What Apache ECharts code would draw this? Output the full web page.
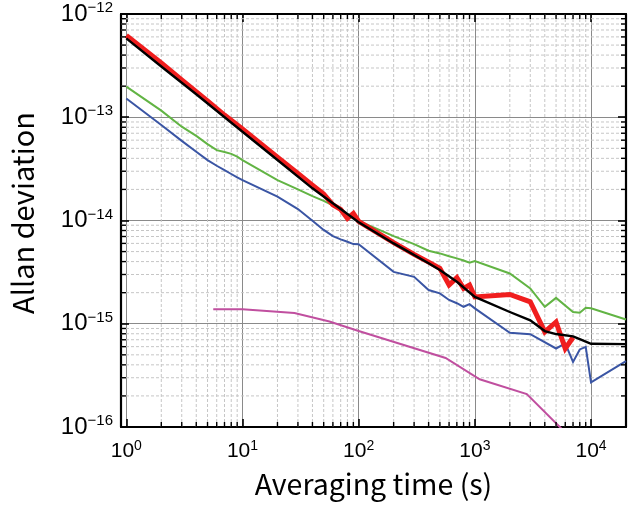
<!DOCTYPE html>
<html>
<head>
<meta charset="utf-8">
<script src="https://cdn.jsdelivr.net/npm/echarts@6/dist/echarts.min.js"></script>
<style>
  html, body { margin: 0; padding: 0; background: #fff; }
  #chart { width: 629px; height: 506px; }
</style>
</head>
<body>
<div id="chart"></div>
<script>
// Averaging times (s) and Allan deviations for each trace
const redTau = [1, 2, 3, 5, 7, 10, 20, 30, 40, 50, 60, 70, 80, 90, 100, 200, 300, 400, 500, 600, 700, 800, 900, 1000, 2000, 3000, 4000, 5000, 6000, 7000];
const redAdev = [6.2e-13, 3.35e-13, 2.3e-13, 1.44e-13, 1.05e-13, 7.7e-14, 4.1e-14, 2.85e-14, 2.2e-14, 1.8e-14, 1.42e-14, 1.28e-14, 1.05e-14, 1.17e-14, 9.8e-15, 6.1e-15, 4.7e-15, 3.95e-15, 3.44e-15, 2.37e-15, 2.79e-15, 2.2e-15, 2.37e-15, 1.82e-15, 1.92e-15, 1.63e-15, 8.35e-16, 1.04e-15, 5.76e-16, 7.36e-16];

const blackTau = [1, 2, 4, 10, 20, 40, 100, 200, 400, 500, 700, 1000, 2000, 3000, 4000, 5000, 7000, 8000, 10000, 20000];
const blackAdev = [5.8e-13, 3.1e-13, 1.67e-13, 7.24e-14, 3.85e-14, 2.05e-14, 9.6e-15, 6.0e-15, 3.86e-15, 3.32e-15, 2.55e-15, 1.82e-15, 1.3e-15, 1.08e-15, 8.5e-16, 7.95e-16, 7.55e-16, 7.1e-16, 6.4e-16, 6.35e-16];

const greenTau = [1, 2, 3, 4, 5, 6, 7, 8, 9, 10, 20, 30, 40, 50, 60, 70, 80, 90, 100, 200, 300, 400, 500, 600, 700, 800, 900, 1000, 2000, 3000, 4000, 5000, 7000, 8000, 9000, 10000, 20000];
const greenAdev = [1.98e-13, 1.16e-13, 8.1e-14, 6.6e-14, 5.5e-14, 4.8e-14, 4.6e-14, 4.42e-14, 4.15e-14, 3.85e-14, 2.46e-14, 2.0e-14, 1.72e-14, 1.55e-14, 1.4e-14, 1.27e-14, 1.12e-14, 1.06e-14, 9.9e-15, 7.05e-15, 5.9e-15, 5.1e-15, 4.8e-15, 4.5e-15, 4.3e-15, 4.1e-15, 3.9e-15, 4.05e-15, 3.07e-15, 2.2e-15, 1.46e-15, 1.78e-15, 1.3e-15, 1.28e-15, 1.43e-15, 1.41e-15, 1.1e-15];

const blueTau = [1, 2, 3, 4, 5, 6, 7, 8, 9, 10, 20, 30, 40, 50, 60, 70, 80, 90, 100, 200, 300, 400, 500, 600, 700, 800, 900, 1000, 2000, 3000, 5000, 6000, 7000, 8000, 9000, 10000, 20000];
const blueAdev = [1.52e-13, 8.4e-14, 5.9e-14, 4.63e-14, 3.85e-14, 3.39e-14, 3.08e-14, 2.82e-14, 2.61e-14, 2.46e-14, 1.7e-14, 1.29e-14, 9.93e-15, 8.1e-15, 7.06e-15, 6.56e-15, 6.22e-15, 5.91e-15, 5.9e-15, 3.18e-15, 2.85e-15, 2.12e-15, 1.97e-15, 1.7e-15, 1.58e-15, 1.46e-15, 1.55e-15, 1.41e-15, 8.16e-16, 7.93e-16, 5.76e-16, 6.44e-16, 4.27e-16, 5.64e-16, 5.97e-16, 2.7e-16, 4.34e-16];

const magentaTau = [5.6, 10, 28, 56, 100, 560, 1100, 2800, 10000];
const magentaAdev = [1.38e-15, 1.38e-15, 1.27e-15, 1.05e-15, 8.5e-16, 4.66e-16, 2.9e-16, 2.08e-16, 5e-17];

// Axis ranges and minor (2..9 per decade) tick positions
const X_MIN = 0.9, X_MAX = 20000;
const Y_MIN = 1e-16, Y_MAX = 1e-12;
const xMinorTicks = [2, 3, 4, 5, 6, 7, 8, 9, 20, 30, 40, 50, 60, 70, 80, 90, 200, 300, 400, 500, 600, 700, 800, 900, 2000, 3000, 4000, 5000, 6000, 7000, 8000, 9000];
const yMinorTicks = [2e-16, 3e-16, 4e-16, 5e-16, 6e-16, 7e-16, 8e-16, 9e-16, 2e-15, 3e-15, 4e-15, 5e-15, 6e-15, 7e-15, 8e-15, 9e-15, 2e-14, 3e-14, 4e-14, 5e-14, 6e-14, 7e-14, 8e-14, 9e-14, 2e-13, 3e-13, 4e-13, 5e-13, 6e-13, 7e-13, 8e-13, 9e-13];

const zip = (a, b) => a.map((v, i) => [v, b[i]]);

function powerLabel(v) {
  const e = Math.log10(v);
  const r = Math.round(e);
  if (Math.abs(e - r) > 1e-6) return '';
  const sup = r < 0 ? '\u2212' + (-r) : String(r);
  return '{b|10}{s|' + sup + '}';
}

const frame = { show: true, onZero: false, lineStyle: { color: '#000', width: 2.2 } };
const majorTick = { show: true, inside: true, length: 8, lineStyle: { color: '#000', width: 1.6 } };
const MINOR_TICK_LEN = 5;

const chart = echarts.init(document.getElementById('chart'), null, { renderer: 'canvas' });

// Minor grid lines (dashed): kind 0 = vertical line at x, kind 1 = horizontal line at y
function minorGridSeries() {
  const data = xMinorTicks.map(v => [v, Y_MIN, 0]).concat(yMinorTicks.map(v => [X_MIN, v, 1]));
  return {
    type: 'custom', data: data, silent: true, clip: false, z: 1, animation: false,
    encode: { x: 0, y: 1 },
    renderItem: function (params, api) {
      const kind = api.value(2);
      let a, b;
      if (kind === 0) {
        a = api.coord([api.value(0), Y_MIN]); b = api.coord([api.value(0), Y_MAX]);
      } else {
        a = api.coord([X_MIN, api.value(1)]); b = api.coord([X_MAX, api.value(1)]);
      }
      return {
        type: 'line',
        shape: { x1: a[0], y1: a[1], x2: b[0], y2: b[1] },
        style: { stroke: '#c6c6c6', lineWidth: 1, lineDash: [3, 2] }
      };
    }
  };
}

// Short inward minor ticks on all four sides of the frame
function minorTickSeries() {
  const data = xMinorTicks.map(v => [v, Y_MIN, 0]).concat(yMinorTicks.map(v => [X_MIN, v, 1]));
  return {
    type: 'custom', data: data, silent: true, clip: false, z: 7, animation: false,
    encode: { x: 0, y: 1 },
    renderItem: function (params, api) {
      const kind = api.value(2);
      const L = MINOR_TICK_LEN;
      const style = { stroke: '#000', lineWidth: 1.4 };
      let p, q, s1, s2;
      if (kind === 0) {
        p = api.coord([api.value(0), Y_MIN]); q = api.coord([api.value(0), Y_MAX]);
        s1 = { x1: p[0], y1: p[1], x2: p[0], y2: p[1] - L };
        s2 = { x1: q[0], y1: q[1], x2: q[0], y2: q[1] + L };
      } else {
        p = api.coord([X_MIN, api.value(1)]); q = api.coord([X_MAX, api.value(1)]);
        s1 = { x1: p[0], y1: p[1], x2: p[0] + L, y2: p[1] };
        s2 = { x1: q[0], y1: q[1], x2: q[0] - L, y2: q[1] };
      }
      return {
        type: 'group',
        children: [
          { type: 'line', shape: s1, style: style },
          { type: 'line', shape: s2, style: style }
        ]
      };
    }
  };
}

function trace(tau, adev, color, width, z) {
  return {
    type: 'line', data: zip(tau, adev), showSymbol: false, symbol: 'none',
    lineStyle: { color: color, width: width, join: 'miter' }, z: z, animation: false
  };
}

chart.setOption({
  animation: false,
  grid: { left: 117, right: 0, top: 14, bottom: 79 },
  xAxis: [
    {
      type: 'log', min: X_MIN, max: X_MAX, position: 'bottom',
      axisLine: frame, axisTick: majorTick,
      axisLabel: {
        formatter: powerLabel, margin: 12, color: '#000',
        rich: {
          b: { fontFamily: 'Liberation Sans', fontSize: 21, color: '#000' },
          s: { fontFamily: 'Liberation Sans', fontSize: 14, color: '#000', padding: [0, 0, 10, 0] }
        }
      },
      splitLine: { show: true, lineStyle: { color: '#8a8a8a', width: 1 } },
      name: 'Averaging time (s)', nameLocation: 'middle', nameGap: 43,
      nameTextStyle: { fontFamily: 'Noto Sans CJK JP', fontSize: 28.5, color: '#000' }
    },
    {
      type: 'log', min: X_MIN, max: X_MAX, position: 'top',
      axisLine: frame, axisTick: majorTick, axisLabel: { show: false }, splitLine: { show: false }
    }
  ],
  yAxis: [
    {
      type: 'log', min: Y_MIN, max: Y_MAX, position: 'left',
      axisLine: frame, axisTick: majorTick,
      axisLabel: {
        formatter: powerLabel, margin: 8, color: '#000',
        rich: {
          b: { fontFamily: 'Liberation Sans', fontSize: 24, color: '#000' },
          s: { fontFamily: 'Liberation Sans', fontSize: 15, color: '#000', padding: [0, 0, 12, 0] }
        }
      },
      splitLine: { show: true, lineStyle: { color: '#8a8a8a', width: 1 } },
      name: 'Allan deviation', nameLocation: 'middle', nameGap: 84,
      nameTextStyle: { fontFamily: 'Noto Sans CJK JP', fontSize: 29, color: '#000', padding: [0, 0, 0, 15] }
    },
    {
      type: 'log', min: Y_MIN, max: Y_MAX, position: 'right',
      axisLine: frame, axisTick: majorTick, axisLabel: { show: false }, splitLine: { show: false }
    }
  ],
  series: [
    minorGridSeries(),
    trace(magentaTau, magentaAdev, '#c04f9f', 2, 2),
    trace(blueTau, blueAdev, '#3a55a4', 2, 3),
    trace(greenTau, greenAdev, '#62b444', 2, 3),
    trace(redTau, redAdev, '#f01e1e', 5, 4),
    trace(blackTau, blackAdev, '#000000', 2.4, 5),
    minorTickSeries()
  ]
});
</script>
</body>
</html>
